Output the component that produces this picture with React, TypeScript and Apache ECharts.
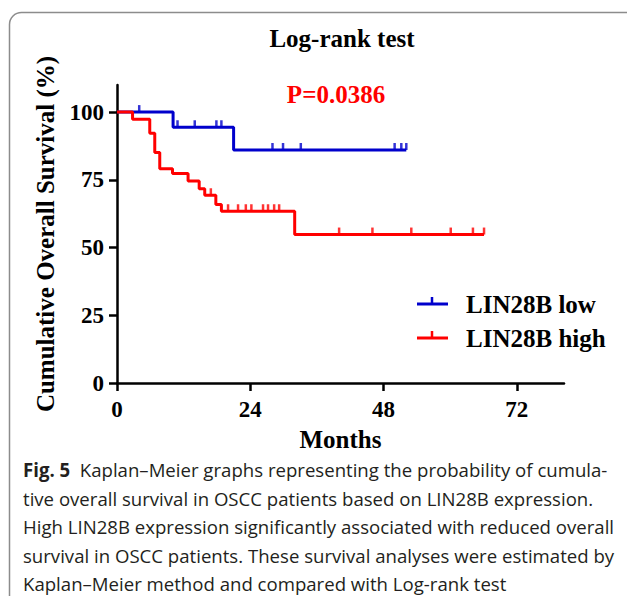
import React, { useEffect, useRef } from 'react';
import * as echarts from 'echarts';

const xTicks = [0, 24, 48, 72];
const yTicks = [0, 25, 50, 75, 100];

const seriesNames = ['LIN28B low', 'LIN28B high'];
const seriesColors = ['#0000CC', '#FF0000'];

// LIN28B low: event times (months) and survival (%) after each event
const lowTimes = [0, 10.1, 21.0, 52.1];
const lowSurv = [100, 94.4, 86.0, 86.0];
const lowCensor = [4.0, 10.9, 14.0, 17.9, 18.8, 28.0, 29.9, 33.1, 50.0, 51.2, 52.1];

// LIN28B high
const highTimes = [0, 2.8, 5.9, 6.8, 7.7, 10.0, 12.8, 14.8, 15.8, 17.8, 18.8, 32.0, 66.1];
const highSurv = [100, 97.4, 92.2, 85.1, 79.1, 77.3, 74.6, 71.7, 69.3, 65.9, 63.4, 54.8, 54.8];
const highCensor = [16.9, 20.0, 21.8, 23.2, 24.2, 26.3, 27.2, 28.3, 29.2, 40.0, 46.0, 53.0, 60.1, 64.1, 66.1];

const titleText = 'Log-rank test';
const pValueText = 'P=0.0386';
const xName = 'Months';
const yName = 'Cumulative Overall Survival (%)';

const captionBold = 'Fig. 5';
const captionLines = [
  '  Kaplan–Meier graphs representing the probability of cumula-',
  'tive overall survival in OSCC patients based on LIN28B expression.',
  'High LIN28B expression significantly associated with reduced overall',
  'survival in OSCC patients. These survival analyses were estimated by',
  'Kaplan–Meier method and compared with Log-rank test',
];

const SERIF = '"Liberation Serif", "Times New Roman", serif';
const SANS = '"Open Sans", "Noto Sans", sans-serif';

function survAt(times: number[], surv: number[], t: number): number {
  let v = surv[0];
  for (let i = 0; i < times.length; i++) {
    if (times[i] <= t) v = surv[i];
  }
  return v;
}

export default function App() {
  const ref = useRef<HTMLDivElement>(null);

  useEffect(() => {
    if (!ref.current) return;
    const chart = echarts.init(ref.current, undefined, { renderer: 'svg' });

    const capSize = 19;
    const ctx = document.createElement('canvas').getContext('2d')!;
    ctx.font = `bold ${capSize}px "Open Sans"`;
    const wb = ctx.measureText(captionBold).width;
    ctx.font = `${capSize}px "Open Sans"`;
    const widths = captionLines.map((l, i) => ctx.measureText(l).width + (i === 0 ? wb : 0));
    const capScale = (614 - 23) / Math.max(...widths);
    const lineYs = [470, 499, 527, 556, 584];

    const captionChildren: any[] = [
      {
        type: 'text',
        x: 0,
        y: lineYs[0],
        style: { text: captionBold, fontFamily: SANS, fontWeight: 'bold', fontSize: capSize, fill: '#231f20', verticalAlign: 'middle' },
      },
    ];
    captionLines.forEach((line, i) => {
      captionChildren.push({
        type: 'text',
        x: i === 0 ? wb : 0,
        y: lineYs[i],
        style: { text: line, fontFamily: SANS, fontSize: capSize, fill: '#231f20', verticalAlign: 'middle' },
      });
    });

    const legendY = [304, 338];

    const lineSeries = [
      { times: lowTimes, surv: lowSurv, censor: lowCensor },
      { times: highTimes, surv: highSurv, censor: highCensor },
    ];

    const series: any[] = [];
    lineSeries.forEach((s, i) => {
      series.push({
        name: seriesNames[i],
        type: 'line',
        step: 'end',
        showSymbol: false,
        data: s.times.map((t, k) => [t, s.surv[k]]),
        lineStyle: { color: seriesColors[i], width: 3 },
        itemStyle: { color: seriesColors[i] },
        z: 3,
      });
      series.push({
        name: seriesNames[i] + ' censored',
        type: 'scatter',
        symbol: 'rect',
        symbolSize: [2.5, 7],
        symbolOffset: [0, -3.5],
        data: s.censor.map((t) => [t, survAt(s.times, s.surv, t)]),
        itemStyle: { color: seriesColors[i] },
        z: 4,
      });
    });

    const legendGraphics: any[] = [];
    seriesNames.forEach((name, i) => {
      legendGraphics.push(
        { type: 'line', shape: { x1: 417, y1: legendY[i], x2: 448, y2: legendY[i] }, style: { stroke: seriesColors[i], lineWidth: 3 } },
        { type: 'line', shape: { x1: 432, y1: legendY[i] - 7, x2: 432, y2: legendY[i] }, style: { stroke: seriesColors[i], lineWidth: 2.5 } },
        {
          type: 'text',
          x: 466,
          y: legendY[i],
          style: { text: name, fontFamily: SERIF, fontWeight: 'bold', fontSize: 25, fill: '#000', verticalAlign: 'middle' },
        }
      );
    });

    chart.setOption({
      animation: false,
      title: {
        text: titleText,
        left: 342,
        top: 26,
        padding: 0,
        textAlign: 'center',
        textStyle: { fontFamily: SERIF, fontWeight: 'bold', fontSize: 25, color: '#000' },
      },
      grid: { left: 117, right: 63, top: 85, bottom: 213, containLabel: false },
      xAxis: {
        type: 'value',
        min: 0,
        max: 80.5,
        interval: 24,
        name: xName,
        nameLocation: 'middle',
        nameGap: 44,
        nameTextStyle: { fontFamily: SERIF, fontWeight: 'bold', fontSize: 25, color: '#000' },
        splitLine: { show: false },
        axisLine: { lineStyle: { color: '#000', width: 2.5 } },
        axisTick: { length: 8, lineStyle: { color: '#000', width: 2.5 }, customValues: xTicks },
        axisLabel: { customValues: xTicks, margin: 15, fontFamily: SERIF, fontWeight: 'bold', fontSize: 23, color: '#000' },
      },
      yAxis: {
        type: 'value',
        min: 0,
        max: 110,
        interval: 25,
        name: yName,
        nameLocation: 'middle',
        nameGap: 59,
        nameTextStyle: { fontFamily: SERIF, fontWeight: 'bold', fontSize: 25, color: '#000' },
        splitLine: { show: false },
        axisLine: { show: true, lineStyle: { color: '#000', width: 2.5 } },
        axisTick: { show: true, length: 8, lineStyle: { color: '#000', width: 2.5 }, customValues: yTicks },
        axisLabel: { customValues: yTicks, margin: 13, fontFamily: SERIF, fontWeight: 'bold', fontSize: 23, color: '#000' },
      },
      graphic: [
        {
          type: 'rect',
          silent: true,
          z: -10,
          shape: { x: 9.5, y: 12.5, width: 700, height: 700, r: 12 },
          style: { fill: 'none', stroke: '#8c8c8c', lineWidth: 1.5 },
        },
        {
          type: 'text',
          x: 336,
          y: 94,
          style: { text: pValueText, fontFamily: SERIF, fontWeight: 'bold', fontSize: 25, fill: '#FF0000', align: 'center', verticalAlign: 'middle' },
        },
        ...legendGraphics,
        { type: 'group', x: 23, y: 0, scaleX: capScale, scaleY: 1, children: captionChildren },
      ],
      series,
    });

    return () => chart.dispose();
  }, []);

  return <div ref={ref} style={{ position: 'absolute', left: 0, top: 0, width: 627, height: 596, background: '#fff' }} />;
}
